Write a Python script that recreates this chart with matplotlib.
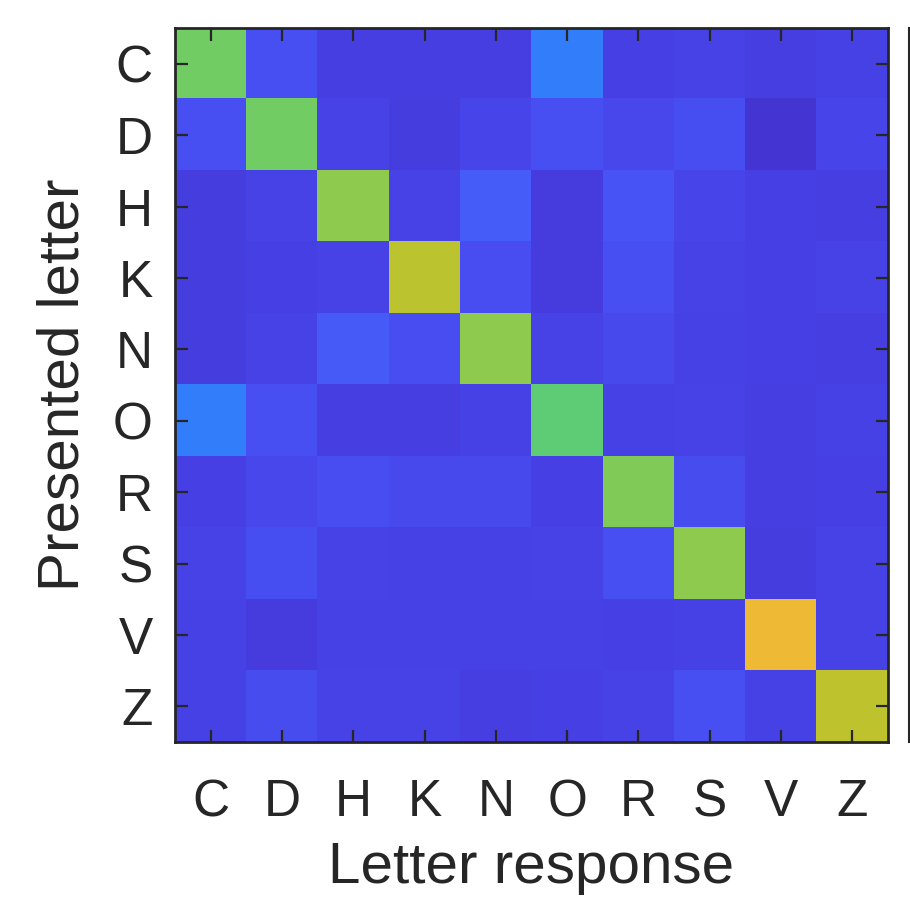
import numpy as np
import matplotlib
matplotlib.use("Agg")
import matplotlib.pyplot as plt
from matplotlib.colors import LinearSegmentedColormap
from matplotlib.lines import Line2D

# letters presented (rows) and letters responded (columns)
letters = ["C", "D", "H", "K", "N", "O", "R", "S", "V", "Z"]

# confusion values (row = presented, col = response)
row_C = [0.690, 0.140, 0.090, 0.090, 0.090, 0.260, 0.095, 0.105, 0.090, 0.100]
row_D = [0.140, 0.690, 0.105, 0.088, 0.110, 0.140, 0.115, 0.135, 0.065, 0.110]
row_H = [0.088, 0.105, 0.722, 0.105, 0.175, 0.085, 0.150, 0.110, 0.095, 0.090]
row_K = [0.088, 0.095, 0.105, 0.772, 0.130, 0.085, 0.140, 0.105, 0.095, 0.105]
row_N = [0.088, 0.105, 0.170, 0.130, 0.722, 0.105, 0.120, 0.100, 0.095, 0.090]
row_O = [0.260, 0.140, 0.090, 0.090, 0.100, 0.665, 0.100, 0.105, 0.092, 0.100]
row_R = [0.095, 0.115, 0.130, 0.120, 0.120, 0.095, 0.705, 0.125, 0.090, 0.095]
row_S = [0.105, 0.135, 0.105, 0.100, 0.100, 0.105, 0.140, 0.722, 0.088, 0.105]
row_V = [0.100, 0.085, 0.100, 0.100, 0.100, 0.098, 0.095, 0.100, 0.845, 0.105]
row_Z = [0.100, 0.125, 0.102, 0.102, 0.090, 0.097, 0.105, 0.140, 0.100, 0.775]

conf = np.array([row_C, row_D, row_H, row_K, row_N,
                 row_O, row_R, row_S, row_V, row_Z])

### parula-like colormap (MATLAB default)
parula_pts = [
    (0.000, (0.2422, 0.1504, 0.6603)),
    (0.063, (0.2700, 0.2120, 0.8300)),
    (0.094, (0.2774, 0.2489, 0.8908)),
    (0.125, (0.2813, 0.2985, 0.9397)),
    (0.157, (0.2803, 0.3367, 0.9670)),
    (0.188, (0.2710, 0.3860, 0.9898)),
    (0.251, (0.2006, 0.4803, 0.9906)),
    (0.314, (0.1686, 0.5705, 0.9357)),
    (0.376, (0.1354, 0.6317, 0.8953)),
    (0.439, (0.0713, 0.6938, 0.8409)),
    (0.502, (0.0200, 0.7300, 0.7700)),
    (0.565, (0.1500, 0.7600, 0.6700)),
    (0.627, (0.2500, 0.7900, 0.5600)),
    (0.659, (0.3424, 0.8009, 0.4774)),
    (0.690, (0.4463, 0.8024, 0.3904)),
    (0.722, (0.5609, 0.7943, 0.3050)),
    (0.753, (0.6701, 0.7796, 0.2239)),
    (0.784, (0.7710, 0.7604, 0.1658)),
    (0.816, (0.8600, 0.7413, 0.1587)),
    (0.847, (0.9357, 0.7290, 0.2061)),
    (0.878, (0.9900, 0.7365, 0.2429)),
    (0.910, (0.9938, 0.7974, 0.1974)),
    (0.941, (0.9671, 0.8654, 0.1636)),
    (0.973, (0.9618, 0.9320, 0.1304)),
    (1.000, (0.9769, 0.9839, 0.0805)),
]
parula = LinearSegmentedColormap.from_list("parula", parula_pts, N=256)

txt = "#262626"
plt.rcParams["font.family"] = ["Liberation Sans", "DejaVu Sans"]

fig = plt.figure(figsize=(9.10, 9.09), dpi=100)
ax = fig.add_axes([0.1923, 0.1837, 0.7835, 0.7855])

ax.imshow(conf, cmap=parula, vmin=0, vmax=1, interpolation="nearest", aspect="auto")

ax.set_xticks(range(len(letters)))
ax.set_yticks(range(len(letters)))
ax.set_xticklabels(letters)
ax.set_yticklabels(letters)
ax.tick_params(direction="in", length=9, width=1.6, colors=txt, labelsize=37,
               top=True, right=True)
ax.tick_params(axis="x", pad=26)
ax.tick_params(axis="y", pad=16)
for sp in ax.spines.values():
    sp.set_linewidth(2.0)
    sp.set_color(txt)

ax.set_xlabel("Letter response", fontsize=42, color=txt, labelpad=10)
ax.set_ylabel("Presented letter", fontsize=42, color=txt, labelpad=16)

# left edge of the colorbar, cut off at the figure border
fig.add_artist(Line2D([0.9985, 0.9985], [0.1837, 0.9692], transform=fig.transFigure,
                      color=txt, linewidth=1.5))

fig.savefig("out.png", dpi=100)
